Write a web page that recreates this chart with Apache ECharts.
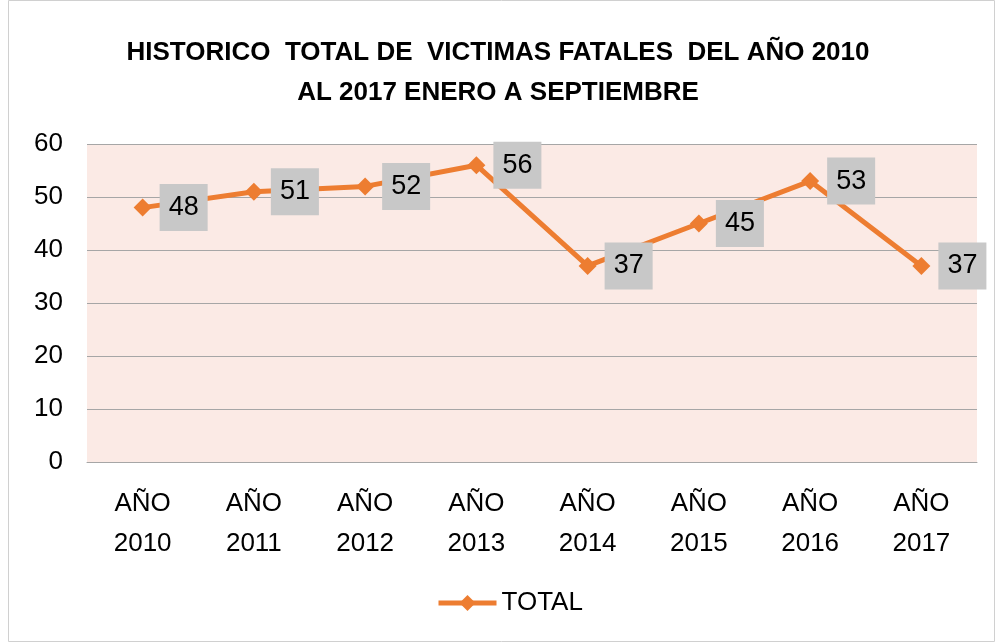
<!DOCTYPE html>
<html>
<head>
<meta charset="utf-8">
<script src="https://cdn.jsdelivr.net/npm/echarts@6/dist/echarts.min.js"></script>
<style>
  html, body { margin: 0; padding: 0; background: #fff; }
  #chart { width: 996px; height: 643px; }
</style>
</head>
<body>
<div id="chart"></div>
<script>
  var years = ['AÑO\n2010', 'AÑO\n2011', 'AÑO\n2012', 'AÑO\n2013', 'AÑO\n2014', 'AÑO\n2015', 'AÑO\n2016', 'AÑO\n2017'];
  var totals = [48, 51, 52, 56, 37, 45, 53, 37];
  var yTicks = { min: 0, max: 60, interval: 10 };

  var font = '"Liberation Sans", Arial, sans-serif';
  var myChart = echarts.init(document.getElementById('chart'));
  var option = {
    backgroundColor: '#fff',
    animation: false,
    textStyle: { fontFamily: font },
    title: {
      text: 'HISTORICO  TOTAL DE  VICTIMAS FATALES  DEL AÑO 2010\nAL 2017 ENERO A SEPTIEMBRE',
      left: 'center',
      top: 28,
      textStyle: { fontFamily: font, fontSize: 26, fontWeight: 'bold', color: '#000', lineHeight: 40 }
    },
    graphic: [{
      type: 'rect',
      shape: { x: 8.5, y: 0.5, width: 986, height: 641 },
      style: { fill: null, stroke: '#d0d0d0', lineWidth: 1 },
      silent: true
    }],
    legend: {
      bottom: 22,
      left: 431,
      itemWidth: 58,
      itemHeight: 20,
      itemGap: 6,
      data: ['TOTAL'],
      lineStyle: { width: 5 },
      textStyle: { fontFamily: font, fontSize: 26, color: '#000' }
    },
    grid: { left: 87, right: 19, top: 144, bottom: 181, backgroundColor: '#fbeae5', show: true, borderWidth: 0 },
    xAxis: {
      type: 'category',
      data: years,
      axisLine: { lineStyle: { color: '#a6a6a6', width: 1 } },
      axisTick: { show: false },
      axisLabel: { fontFamily: font, fontSize: 26, color: '#000', lineHeight: 40, margin: 22 }
    },
    yAxis: {
      type: 'value',
      min: yTicks.min,
      max: yTicks.max,
      interval: yTicks.interval,
      axisLine: { show: false },
      axisTick: { show: false },
      splitLine: { lineStyle: { color: '#a6a6a6', width: 1 } },
      axisLabel: { fontFamily: font, fontSize: 26, color: '#000', margin: 24 }
    },
    series: [{
      name: 'TOTAL',
      type: 'line',
      data: totals,
      symbol: 'diamond',
      symbolSize: 18,
      lineStyle: { color: '#ed7d31', width: 5 },
      itemStyle: { color: '#ed7d31' },
      label: {
        show: true,
        position: 'right',
        distance: 8,
        fontFamily: font,
        fontSize: 27,
        color: '#000',
        backgroundColor: '#c8c8c8',
        padding: [11, 9, 9, 9]
      }
    }]
  };
  option && myChart.setOption(option);
</script>
</body>
</html>
